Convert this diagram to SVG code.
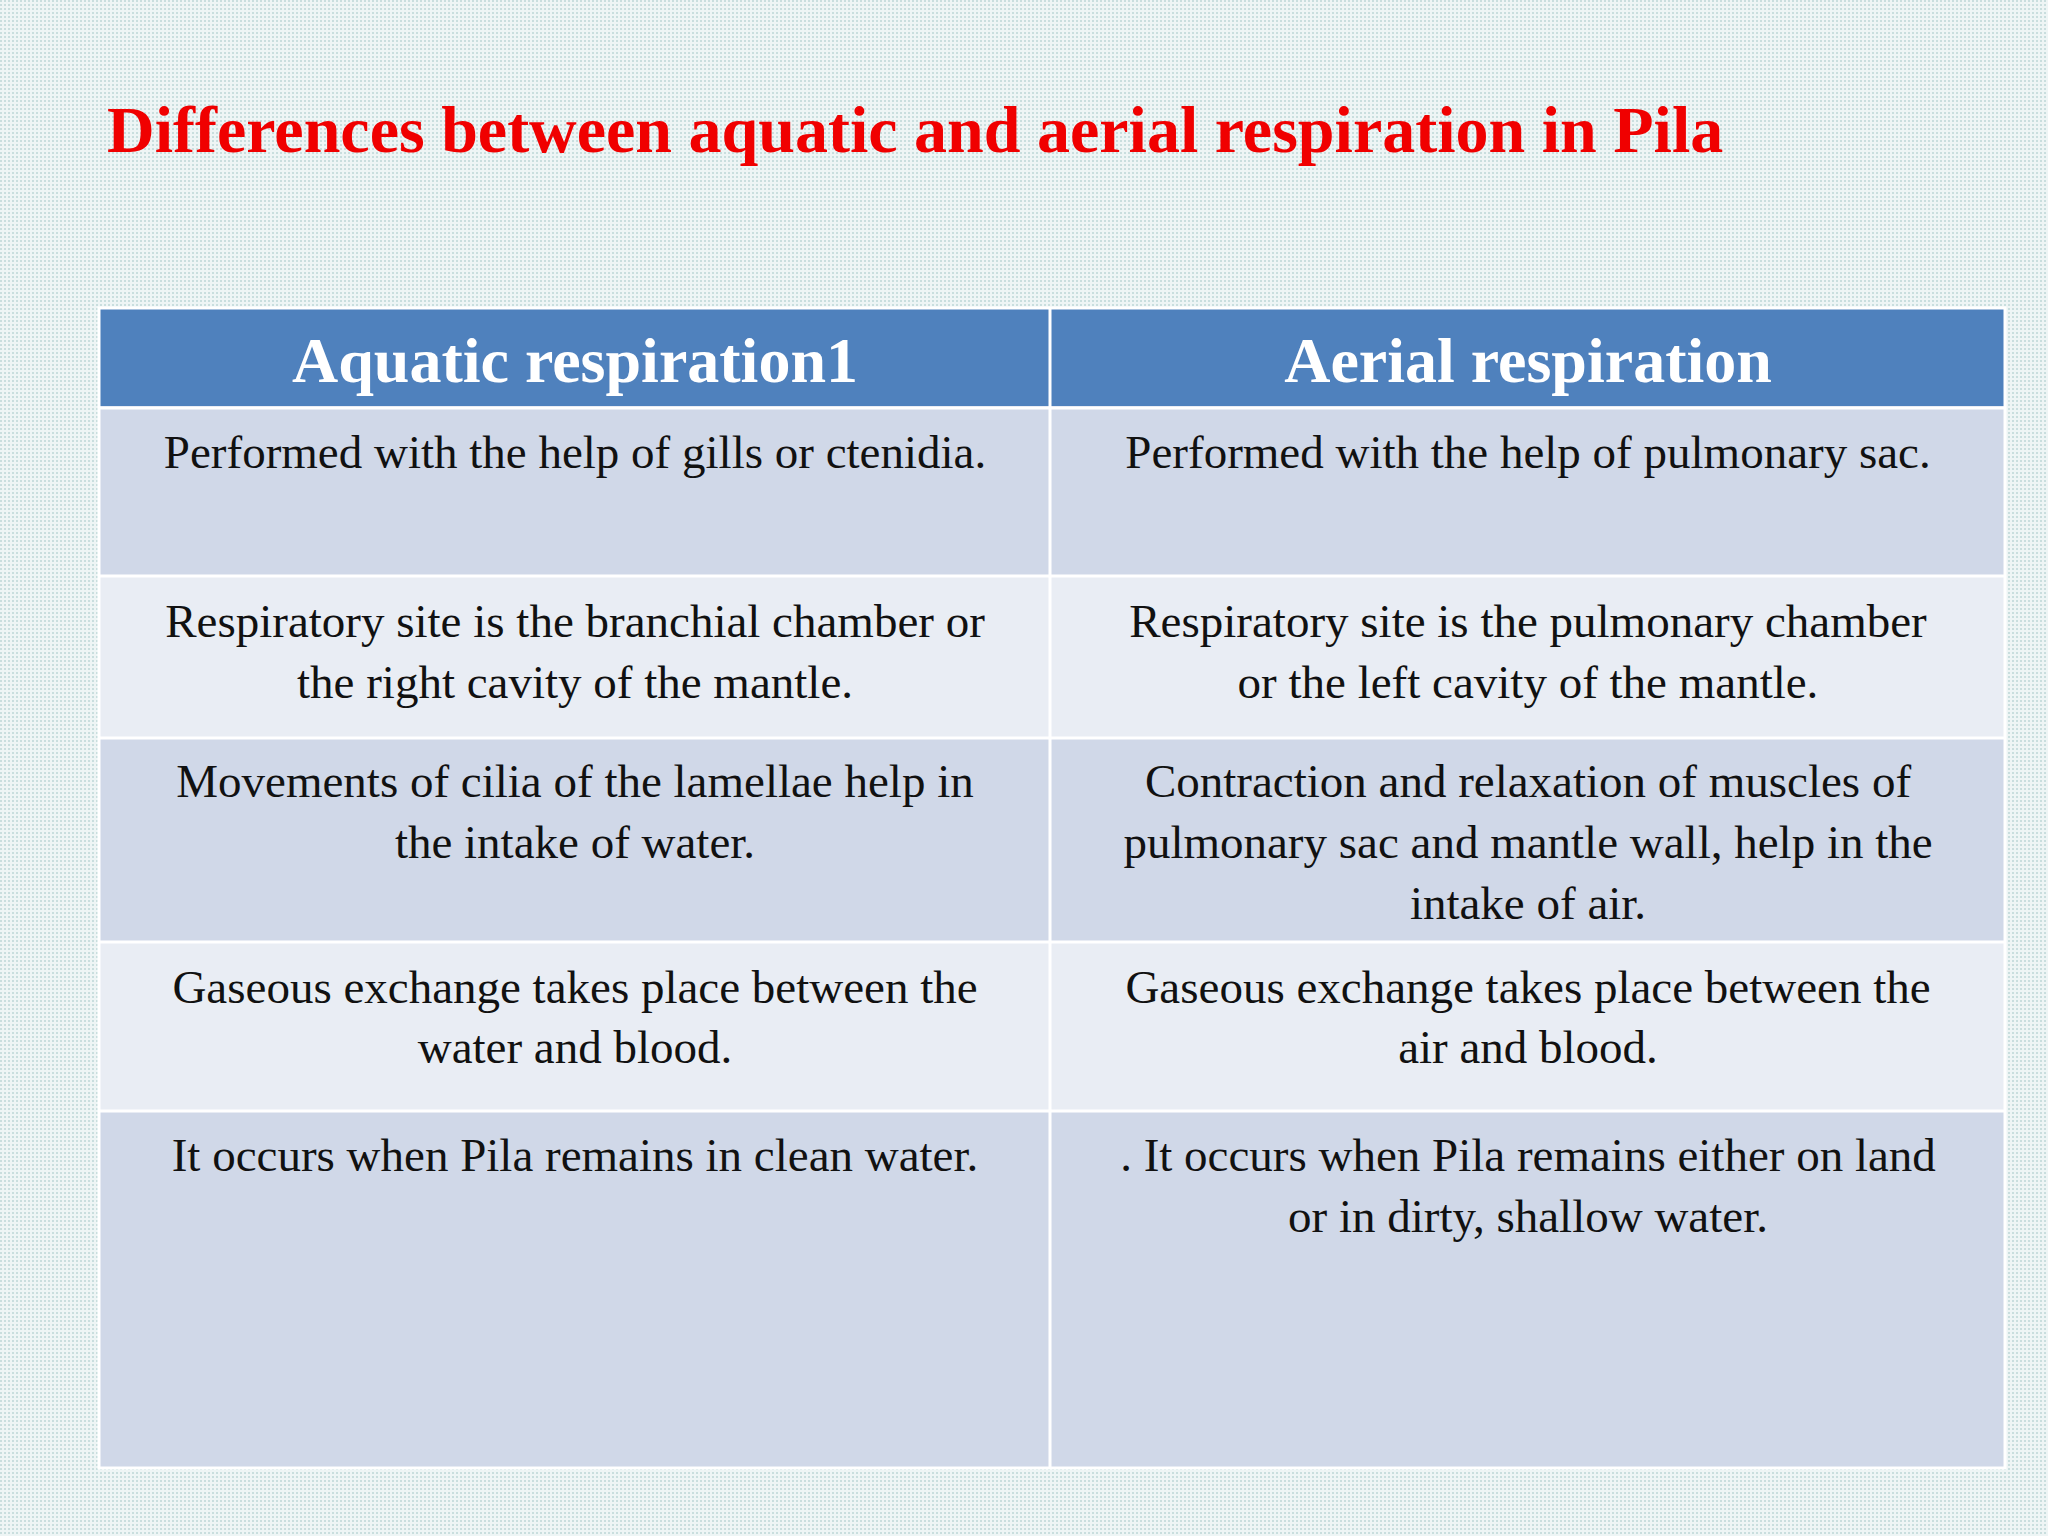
<svg xmlns="http://www.w3.org/2000/svg" width="2048" height="1536" viewBox="0 0 2048 1536">
<defs>
<pattern id="dots" width="4" height="4" patternUnits="userSpaceOnUse"><rect width="4" height="4" fill="#eef5f5"/><rect width="2" height="2" fill="#c9dede"/></pattern>
<linearGradient id="g1" x1="0" y1="0" x2="0" y2="1"><stop offset="0" stop-color="#cdd5e6"/><stop offset="1" stop-color="#d3daea"/></linearGradient>
</defs>
<style>
.t{font-family:"Liberation Serif",serif;font-size:47px;fill:#111;text-anchor:middle}
.h{font-family:"Liberation Serif",serif;font-size:64px;font-weight:bold;fill:#fff;text-anchor:middle}
.odd{fill:#d0d8e8}.even{fill:#e9edf4}
.ln{stroke:#fff;stroke-width:3}
</style>
<rect width="2048" height="1536" fill="url(#dots)"/>
<text x="107" y="152" font-family="Liberation Serif,serif" font-size="66" font-weight="bold" fill="#f00000">Differences between aquatic and aerial respiration in Pila</text>
<g id="table">
<rect x="99" y="308" width="1906" height="98" fill="#4f81bd"/>
<rect x="99" y="406" width="1906" height="170" class="odd"/>
<rect x="99" y="576" width="1906" height="162" class="even"/>
<rect x="99" y="738" width="1906" height="204" class="odd"/>
<rect x="99" y="942" width="1906" height="169" class="even"/>
<rect x="99" y="1111" width="1906" height="357" class="odd"/>
</g>
<g id="lines">
<line class="ln" x1="1050" y1="308" x2="1050" y2="1468"/>
<line class="ln" x1="99" y1="408" x2="2005" y2="408" stroke-width="5"/>
<line class="ln" x1="99" y1="576" x2="2005" y2="576"/>
<line class="ln" x1="99" y1="738" x2="2005" y2="738"/>
<line class="ln" x1="99" y1="942" x2="2005" y2="942"/>
<line class="ln" x1="99" y1="1111" x2="2005" y2="1111"/>
<rect x="99" y="308" width="1906" height="1160" fill="none" class="ln"/>
</g>
<g id="text">
<text class="h" x="575" y="382">Aquatic respiration1</text>
<text class="h" x="1528" y="382">Aerial respiration</text>
<text class="t" x="575" y="468">Performed with the help of gills or ctenidia.</text>
<text class="t" x="1528" y="468">Performed with the help of pulmonary sac.</text>
<text class="t" x="575" y="637">Respiratory site is the branchial chamber or</text>
<text class="t" x="575" y="698">the right cavity of the mantle.</text>
<text class="t" x="1528" y="637">Respiratory site is the pulmonary chamber</text>
<text class="t" x="1528" y="698">or the left cavity of the mantle.</text>
<text class="t" x="575" y="797">Movements of cilia of the lamellae help in</text>
<text class="t" x="575" y="858">the intake of water.</text>
<text class="t" x="1528" y="797">Contraction and relaxation of muscles of</text>
<text class="t" x="1528" y="858">pulmonary sac and mantle wall, help in the</text>
<text class="t" x="1528" y="919">intake of air.</text>
<text class="t" x="575" y="1003">Gaseous exchange takes place between the</text>
<text class="t" x="575" y="1063">water and blood.</text>
<text class="t" x="1528" y="1003">Gaseous exchange takes place between the</text>
<text class="t" x="1528" y="1063">air and blood.</text>
<text class="t" x="575" y="1171">It occurs when Pila remains in clean water.</text>
<text class="t" x="1528" y="1171">. It occurs when Pila remains either on land</text>
<text class="t" x="1528" y="1232">or in dirty, shallow water.</text>
</g>
</svg>
